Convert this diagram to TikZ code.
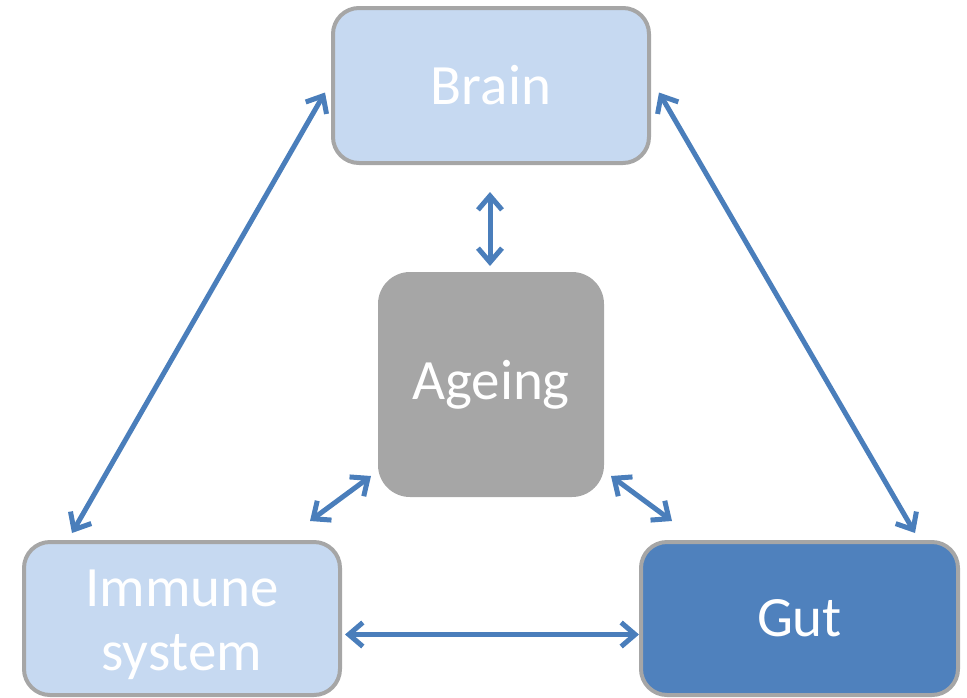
\documentclass[tikz,border=0pt]{standalone}
\usepackage{fontspec}
\setmainfont{Carlito}
\usetikzlibrary{arrows.meta,calc}
\definecolor{lightfill}{HTML}{C6D9F1}
\definecolor{greyfill}{HTML}{A6A6A6}
\definecolor{gutfill}{HTML}{4F81BD}
\definecolor{framegrey}{HTML}{A6A6A6}
\definecolor{linkblue}{HTML}{4A7EBB}
\newcommand{\lowered}[1]{\raisebox{-6pt}[\height][\depth]{#1}}
\tikzset{
  box/.style={rectangle, rounded corners=26pt, draw=framegrey, line width=4pt,
    text=white, font=\fontsize{57}{64}\selectfont, align=center, inner sep=0pt},
  barb/.tip={Straight Barb[length=14pt,width=24pt,line width=5pt]},
  link/.style={draw=linkblue, line width=5pt, barb-barb}
}
\begin{document}
\begin{tikzpicture}[x=1pt,y=-1pt]
  \useasboundingbox (0,0) rectangle (967,697);
  % the four boxes
  \node[box, fill=lightfill, minimum width=316pt, minimum height=155pt] (brain) at (491,85.5) {Brain};
  \node[box, fill=greyfill, draw=none, rounded corners=32pt, minimum width=226pt, minimum height=225pt] (ageing) at (491,384.5) {Ageing};
  \node[box, fill=lightfill, minimum width=316pt, minimum height=153pt] (immune) at (182,618.5) {\lowered{Immune}\\\lowered{system}};
  \node[box, fill=gutfill, minimum width=317pt, minimum height=153pt] (gut) at (799.5,618.5) {Gut};
  % two-way links
  \draw[link] ($(brain.west)+(-6,7)$) -- ($(immune.north)+(-110,-7)$);
  \draw[link] ($(brain.east)+(8,7)$) -- ($(gut.north)+(115.5,-7)$);
  \draw[link] ($(brain.south)+(-1,27)$) -- ($(ageing.north)+(-1,-4)$);
  \draw[link] ($(ageing.south west)+(-5,-23)$) -- ($(immune.north east)+(-32,-19)$);
  \draw[link] ($(ageing.south east)+(5,-23)$) -- ($(gut.north west)+(33,-19)$);
  \draw[link] ($(immune.east)+(3,16)$) -- ($(gut.west)+(0,16)$);
\end{tikzpicture}
\end{document}
